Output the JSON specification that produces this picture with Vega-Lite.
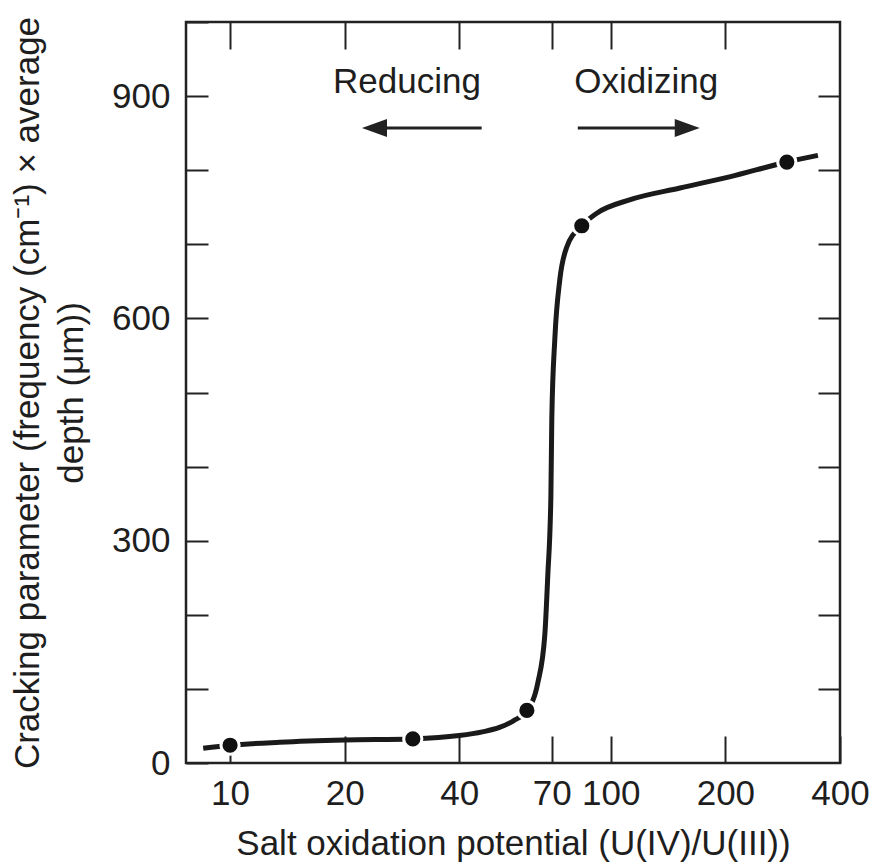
{
  "$schema": "https://vega.github.io/schema/vega-lite/v6.json",
  "width": 654,
  "height": 741,
  "autosize": {"type": "none"},
  "padding": {"left": 186, "top": 22, "right": 42, "bottom": 104},
  "background": "white",
  "config": {
    "view": {"stroke": "#222", "strokeWidth": 2.5},
    "font": "Liberation Sans",
    "axis": {
      "domain": false, "grid": false, "tickColor": "#222", "tickWidth": 2,
      "labelColor": "#1e1e1e", "labelFont": "Liberation Sans", "labelFontSize": 35,
      "titleFont": "Liberation Sans", "titleFontSize": 35, "titleFontWeight": "normal",
      "titleColor": "#1e1e1e", "labelOverlap": false, "labelFlush": false
    }
  },
  "datasets": {
    "curve": [
      {"x": 8.5, "y": 20}, {"x": 10, "y": 24}, {"x": 13.5, "y": 28}, {"x": 20, "y": 31},
      {"x": 30.2, "y": 32.5}, {"x": 40, "y": 37}, {"x": 46, "y": 42}, {"x": 51, "y": 48},
      {"x": 55.5, "y": 57}, {"x": 60.2, "y": 71}, {"x": 64.3, "y": 108}, {"x": 67.1, "y": 173},
      {"x": 68.3, "y": 252}, {"x": 69.6, "y": 359}, {"x": 70.0, "y": 466}, {"x": 71.3, "y": 573},
      {"x": 73.5, "y": 653}, {"x": 76.6, "y": 696}, {"x": 83.9, "y": 725}, {"x": 91.9, "y": 742},
      {"x": 112, "y": 760}, {"x": 152, "y": 776}, {"x": 205, "y": 791}, {"x": 290, "y": 811},
      {"x": 350, "y": 820}
    ],
    "dots": [
      {"x": 10, "y": 24}, {"x": 30.2, "y": 32.5}, {"x": 60.2, "y": 71},
      {"x": 83.9, "y": 725}, {"x": 290, "y": 811}
    ],
    "arrows": [
      {"x": 45.8, "x2": 25, "y": 857},
      {"x": 81.9, "x2": 160, "y": 857}
    ],
    "heads": [
      {"x": 23.95, "y": 857, "dir": "left"},
      {"x": 158.8, "y": 857, "dir": "right"}
    ],
    "notes": [
      {"x": 29.15, "y": 904, "text": "Reducing"},
      {"x": 123.9, "y": 904, "text": "Oxidizing"}
    ]
  },
  "resolve": {"axis": {"x": "independent", "y": "independent"}},
  "layer": [
    {
      "data": {"name": "curve"},
      "mark": {"type": "line", "interpolate": "monotone", "color": "#1a1a1a", "strokeWidth": 5, "strokeCap": "butt"},
      "encoding": {
        "x": {
          "field": "x", "type": "quantitative",
          "scale": {"type": "log", "domain": [7.66, 400], "nice": false},
          "axis": {
            "orient": "bottom", "values": [10, 20, 40, 70, 100, 200, 400], "format": "d",
            "tickSize": -27, "labelPadding": 40,
            "title": "Salt oxidation potential (U(IV)/U(III))", "titlePadding": 15
          }
        },
        "y": {
          "field": "y", "type": "quantitative",
          "scale": {"domain": [0, 1000], "nice": false},
          "axis": {
            "orient": "left", "values": [0, 100, 200, 300, 400, 500, 600, 700, 800, 900, 1000],
            "tickSize": -22, "labelPadding": 38,
            "labelExpr": "datum.value % 300 === 0 && datum.value < 1000 ? datum.label : ''",
            "title": ["Cracking parameter (frequency (cm⁻¹) × average", "depth (μm))"],
            "titleLineHeight": 44, "titlePadding": 22
          }
        }
      }
    },
    {
      "data": {"name": "dots"},
      "mark": {"type": "point", "shape": "circle", "filled": true, "fill": "#111", "stroke": "white", "strokeWidth": 3, "size": 330, "opacity": 1},
      "encoding": {
        "x": {
          "field": "x", "type": "quantitative",
          "scale": {"type": "log", "domain": [7.66, 400], "nice": false},
          "axis": {"orient": "top", "values": [10, 20, 40, 70, 100, 200], "tickSize": -27, "labels": false, "title": null}
        },
        "y": {
          "field": "y", "type": "quantitative",
          "scale": {"domain": [0, 1000], "nice": false},
          "axis": {"orient": "right", "values": [100, 200, 300, 400, 500, 600, 700, 800, 900], "tickSize": -22, "labels": false, "title": null}
        }
      }
    },
    {
      "data": {"name": "arrows"},
      "mark": {"type": "rule", "color": "#222", "strokeWidth": 3},
      "encoding": {
        "x": {"field": "x", "type": "quantitative", "axis": null},
        "x2": {"field": "x2"},
        "y": {"field": "y", "type": "quantitative", "axis": null}
      }
    },
    {
      "data": {"name": "heads"},
      "mark": {"type": "point", "filled": true, "fill": "#222", "strokeWidth": 0, "size": 625, "opacity": 1},
      "encoding": {
        "x": {"field": "x", "type": "quantitative", "axis": null},
        "y": {"field": "y", "type": "quantitative", "axis": null},
        "shape": {
          "field": "dir", "type": "nominal", "legend": null,
          "scale": {"domain": ["left", "right"], "range": ["M-1,0L1,-0.72L1,0.72Z", "M1,0L-1,-0.72L-1,0.72Z"]}
        }
      }
    },
    {
      "data": {"name": "notes"},
      "mark": {"type": "text", "font": "Liberation Sans", "fontSize": 35, "color": "#1e1e1e", "align": "center", "baseline": "alphabetic"},
      "encoding": {
        "x": {"field": "x", "type": "quantitative", "axis": null},
        "y": {"field": "y", "type": "quantitative", "axis": null},
        "text": {"field": "text"}
      }
    }
  ]
}
